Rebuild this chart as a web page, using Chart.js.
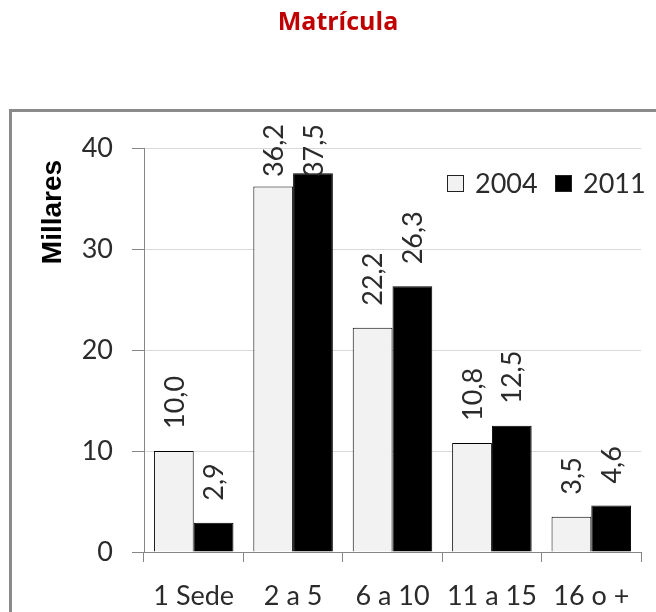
<!DOCTYPE html>
<html>
<head>
<meta charset="utf-8">
<script src="https://cdn.jsdelivr.net/npm/chart.js@4/dist/chart.umd.min.js"></script>
<style>
  html, body { margin: 0; padding: 0; background: #fff; overflow: hidden; }
  #wrap { position: relative; width: 656px; height: 612px; }
  #frame {
    position: absolute; left: 9px; top: 109px; width: 700px; height: 600px;
    border: 3px solid #8a8a8a; box-sizing: border-box;
  }
  canvas { position: absolute; left: 0; top: 0; }
</style>
</head>
<body>
<div id="wrap">
  <div id="frame"></div>
  <canvas id="chart" width="656" height="612"></canvas>
</div>
<script>
// ─── Data ────────────────────────────────────────────────────────────────────

const categories = ['1 Sede', '2 a 5', '6 a 10', '11 a 15', '16 o +'];
const values2004 = [10.0, 36.2, 22.2, 10.8, 3.5];
const values2011 = [2.9, 37.5, 26.3, 12.5, 4.6];
const yTicks = [0, 10, 20, 30, 40];

const FONT = 'Lato';
const TEXT = '#2b2b2b';
const fmt = (v) => v.toFixed(1).replace('.', ',');

// ─── Plugin: rotated value labels, legend inside plot, axis title ───────────

const extras = {
  id: 'extras',
  afterDatasetsDraw(chart) {
    const ctx = chart.ctx;
    ctx.save();
    ctx.font = `27px ${FONT}`;
    ctx.fillStyle = TEXT;
    ctx.textAlign = 'left';
    ctx.textBaseline = 'middle';
    chart.data.datasets.forEach((ds, di) => {
      chart.getDatasetMeta(di).data.forEach((bar, i) => {
        const txt = fmt(ds.data[i]);
        const w = ctx.measureText(txt).width;
        let bottom = bar.y - 22;
        if (bottom - w < 124) bottom = 124 + w;
        ctx.save();
        ctx.translate(bar.x, bottom);
        ctx.rotate(-Math.PI / 2);
        ctx.fillText(txt, 0, 1);
        ctx.restore();
      });
    });

    // legend
    const area = chart.chartArea;
    const lx = [area.right - 194, area.right - 86];
    chart.data.datasets.forEach((ds, di) => {
      const x = lx[di], y = 175;
      ctx.fillStyle = ds.backgroundColor;
      ctx.fillRect(x, y, 17, 17);
      ctx.strokeStyle = '#222';
      ctx.lineWidth = 1;
      ctx.strokeRect(x + 0.5, y + 0.5, 16, 16);
      ctx.fillStyle = TEXT;
      ctx.fillText(ds.label, x + 28, y + 9);
    });

    // y axis title
    ctx.font = 'bold 28px "Liberation Sans"';
    ctx.fillStyle = '#000';
    ctx.textAlign = 'center';
    ctx.translate(53, 212);
    ctx.rotate(-Math.PI / 2);
    ctx.fillText('Millares', 0, 0);
    ctx.restore();
  },
};

// ─── Chart ───────────────────────────────────────────────────────────────────

new Chart(document.getElementById('chart'), {
  type: 'bar',
  data: {
    labels: categories,
    datasets: [
      {
        label: '2004',
        data: values2004,
        backgroundColor: '#f2f2f2',
        borderColor: '#000',
        borderWidth: 1,
        categoryPercentage: 0.8,
        barPercentage: 1.0,
      },
      {
        label: '2011',
        data: values2011,
        backgroundColor: '#000000',
        borderColor: '#000',
        borderWidth: 1,
        categoryPercentage: 0.8,
        barPercentage: 1.0,
      },
    ],
  },
  options: {
    responsive: false,
    animation: false,
    layout: { padding: { left: 35, right: 15, top: 0, bottom: 0 } },
    plugins: {
      legend: { display: false },
      tooltip: { enabled: false },
      title: {
        display: true,
        text: 'Matrícula',
        color: '#c00000',
        font: { family: 'Open Sans', size: 25, weight: 'bold', lineHeight: 1.2 },
        padding: { top: 8, bottom: 110 },
      },
    },
    scales: {
      x: {
        grid: {
          offset: true,
          drawOnChartArea: false,
          drawTicks: true,
          tickLength: 10,
          tickColor: '#868686',
        },
        border: { color: '#868686', width: 1 },
        ticks: { color: TEXT, font: { family: FONT, size: 27 }, padding: 18 },
        afterFit(scale) { scale.height = 60; },
      },
      y: {
        min: 0,
        max: 40,
        afterBuildTicks(scale) { scale.ticks = yTicks.map((v) => ({ value: v })); },
        grid: { color: '#d9d9d9', tickLength: 12, tickColor: '#868686' },
        border: { color: '#868686', width: 1 },
        ticks: { color: TEXT, font: { family: FONT, size: 27 }, padding: 19 },
        afterFit(scale) { scale.width = 144 - 35; },
      },
    },
  },
  plugins: [extras],
});
</script>
</body>
</html>
